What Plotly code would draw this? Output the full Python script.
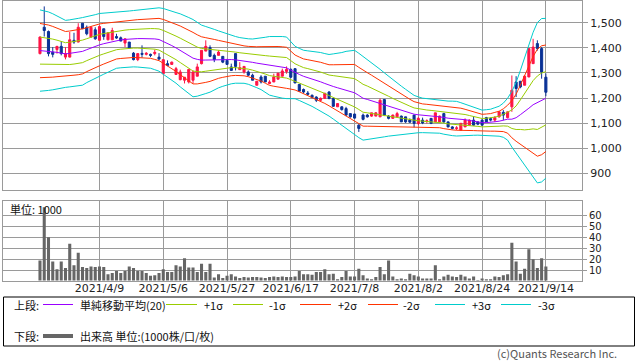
import pandas as pd
import plotly.graph_objects as go

# ---------------- data ----------------
holidays = ["2021-04-29", "2021-05-03", "2021-05-04", "2021-05-05",
            "2021-07-22", "2021-07-23", "2021-08-09"]
dates = [d.strftime("%Y-%m-%d") for d in pd.bdate_range("2021-03-22", "2021-09-14")
         if d.strftime("%Y-%m-%d") not in holidays]

open_ = [1377, 1482, 1465, 1383, 1393, 1406, 1363, 1363, 1430, 1423,
         1498, 1482, 1443, 1472, 1430, 1476, 1432, 1432, 1445, 1440,
         1419, 1423, 1379, 1353, 1378, 1374, 1374, 1377, 1363, 1297,
         1337, 1334, 1294, 1273, 1271, 1264, 1271, 1287, 1337, 1387,
         1401, 1370, 1370, 1366, 1350, 1324, 1377, 1313, 1304, 1304,
         1291, 1251, 1284, 1287, 1258, 1264, 1275, 1287, 1306, 1314,
         1317, 1254, 1234, 1220, 1211, 1204, 1191, 1199, 1224, 1198,
         1165, 1165, 1158, 1138, 1136, 1092, 1132, 1132, 1128, 1128,
         1125, 1194, 1128, 1119, 1125, 1128, 1125, 1112, 1132, 1099,
         1112, 1107, 1119, 1105, 1105, 1138, 1105, 1085, 1079, 1072,
         1085, 1092, 1112, 1105, 1112, 1122, 1118, 1112, 1125, 1143,
         1122, 1165, 1264, 1267, 1251, 1284, 1337, 1417, 1397, 1283]
high = [1445, 1565, 1469, 1403, 1406, 1426, 1403, 1463, 1460, 1498,
        1498, 1489, 1486, 1482, 1489, 1476, 1461, 1480, 1456, 1445,
        1436, 1423, 1383, 1379, 1410, 1383, 1377, 1393, 1379, 1354,
        1350, 1345, 1324, 1313, 1283, 1314, 1310, 1337, 1390, 1430,
        1410, 1377, 1390, 1366, 1356, 1337, 1377, 1343, 1326, 1310,
        1297, 1267, 1291, 1287, 1271, 1297, 1299, 1317, 1326, 1318,
        1318, 1255, 1238, 1228, 1214, 1207, 1202, 1220, 1227, 1198,
        1180, 1167, 1165, 1140, 1138, 1096, 1138, 1136, 1141, 1144,
        1198, 1195, 1132, 1134, 1145, 1130, 1125, 1119, 1132, 1125,
        1122, 1115, 1119, 1141, 1130, 1141, 1107, 1088, 1088, 1101,
        1119, 1115, 1128, 1107, 1115, 1125, 1122, 1128, 1148, 1152,
        1146, 1290, 1287, 1267, 1291, 1397, 1436, 1430, 1403, 1298]
low = [1374, 1445, 1366, 1362, 1377, 1370, 1354, 1362, 1416, 1422,
       1476, 1450, 1440, 1432, 1430, 1432, 1430, 1432, 1436, 1427,
       1403, 1399, 1350, 1347, 1361, 1370, 1363, 1370, 1355, 1294,
       1327, 1333, 1294, 1271, 1258, 1258, 1258, 1287, 1334, 1387,
       1363, 1343, 1370, 1339, 1334, 1310, 1310, 1313, 1297, 1287,
       1271, 1251, 1258, 1264, 1255, 1264, 1275, 1287, 1297, 1279,
       1260, 1227, 1218, 1211, 1199, 1184, 1188, 1196, 1195, 1165,
       1165, 1150, 1128, 1122, 1118, 1065, 1111, 1122, 1125, 1128,
       1125, 1128, 1115, 1118, 1125, 1105, 1101, 1101, 1083, 1092,
       1096, 1099, 1096, 1105, 1105, 1101, 1083, 1075, 1072, 1072,
       1085, 1092, 1090, 1092, 1090, 1105, 1107, 1105, 1122, 1112,
       1119, 1145, 1204, 1239, 1251, 1283, 1337, 1389, 1277, 1207]
close = [1443, 1469, 1377, 1374, 1406, 1377, 1377, 1432, 1423, 1482,
         1476, 1456, 1482, 1436, 1485, 1445, 1460, 1469, 1439, 1427,
         1436, 1399, 1353, 1377, 1374, 1378, 1370, 1382, 1355, 1353,
         1330, 1343, 1317, 1304, 1283, 1314, 1304, 1324, 1390, 1406,
         1366, 1353, 1383, 1343, 1334, 1310, 1326, 1321, 1326, 1291,
         1271, 1267, 1264, 1264, 1264, 1284, 1299, 1308, 1314, 1283,
         1260, 1227, 1224, 1215, 1202, 1191, 1199, 1219, 1198, 1167,
         1178, 1154, 1132, 1125, 1120, 1079, 1115, 1125, 1141, 1141,
         1191, 1132, 1119, 1132, 1138, 1105, 1105, 1104, 1099, 1119,
         1101, 1109, 1099, 1141, 1128, 1105, 1085, 1079, 1081, 1099,
         1112, 1112, 1092, 1096, 1092, 1105, 1112, 1122, 1145, 1132,
         1145, 1231, 1238, 1244, 1287, 1397, 1403, 1397, 1304, 1223]
volume = [19, 67, 40, 18, 11, 18, 12, 34, 14.5, 26,
          13, 12, 13.5, 13, 13.5, 13, 6.5, 7.5, 9.5, 7.5,
          9.5, 13.5, 12, 9.5, 9.5, 7.5, 5, 5.5, 7.5, 11,
          8.5, 8.5, 14.5, 13.5, 21, 12.5, 12.5, 8.5, 16, 8.5,
          16, 3.5, 6.5, 3, 5, 6.5, 4.5, 3, 4, 3.5,
          4, 4, 3.5, 3, 4, 4.5, 4, 4.5, 4, 4,
          4.5, 9.5, 6.5, 6.5, 6, 8.5, 8.5, 11, 6.5, 7,
          2, 4, 9.5, 4.5, 4.5, 11.5, 5.5, 2.5, 2, 4,
          13, 6.5, 19, 4.5, 2, 2.5, 2, 7, 5.5, 4.5,
          2.5, 2.5, 2.5, 14.5, 2, 4.5, 6, 4.5, 4, 6,
          4.5, 2.5, 4.5, 1.2, 2.5, 2, 2, 4.5, 4, 5.5,
          6.5, 35, 18, 7, 11.5, 29, 20, 12, 21, 13.5]
sma20 = [1389.1, 1387.9, 1386.7, 1384.3, 1382.0, 1378.8, 1376.0, 1378.0, 1380.0, 1382.7,
         1385.9, 1392.7, 1399.8, 1405.8, 1411.8, 1416.5, 1420.9, 1425.7, 1429.6, 1431.6,
         1433.6, 1435.2, 1436.4, 1436.8, 1436.8, 1437.2, 1437.2, 1435.6, 1433.2, 1425.7,
         1417.7, 1409.0, 1399.8, 1389.9, 1380.0, 1369.2, 1358.9, 1354.1, 1351.0, 1351.4,
         1352.1, 1353.3, 1354.1, 1354.1, 1354.1, 1353.3, 1352.1, 1350.2, 1348.2, 1345.4,
         1342.2, 1339.0, 1336.3, 1332.3, 1328.3, 1326.3, 1324.3, 1322.3, 1320.4, 1311.2,
         1301.7, 1294.1, 1286.6, 1281.8, 1276.6, 1270.7, 1264.7, 1258.0, 1250.8, 1246.0,
         1240.9, 1235.7, 1230.9, 1226.2, 1221.0, 1210.3, 1199.1, 1194.4, 1189.2, 1184.0,
         1178.5, 1172.9, 1167.4, 1161.4, 1155.4, 1150.7, 1145.5, 1140.3, 1135.6, 1133.2,
         1130.8, 1129.6, 1128.4, 1126.8, 1125.6, 1122.8, 1119.7, 1118.9, 1117.7, 1115.7,
         1113.7, 1110.9, 1107.7, 1104.6, 1101.8, 1102.2, 1103.0, 1105.4, 1107.7, 1111.7,
         1115.7, 1115.7, 1121.6, 1133.6, 1145.5, 1159.4, 1173.3, 1181.3, 1191.2, 1199.1]
sigma20 = [54.0, 53.3, 52.1, 50.5, 48.5, 46.5, 44.5, 44.5, 44.5, 44.9,
           44.9, 43.7, 42.9, 42.1, 41.7, 40.5, 39.3, 38.2, 37.0, 37.0,
           37.0, 37.2, 37.4, 37.8, 38.2, 38.9, 39.5, 40.9, 42.1, 43.7,
           44.9, 46.1, 46.9, 48.5, 49.7, 50.5, 51.3, 48.9, 46.5, 44.5,
           42.9, 40.1, 37.8, 35.8, 33.8, 32.2, 31.0, 30.2, 29.8, 30.2,
           31.0, 32.6, 34.2, 36.6, 38.9, 39.7, 40.5, 40.9, 40.9, 37.8,
           34.8, 34.6, 34.6, 35.4, 36.6, 37.8, 38.9, 39.7, 40.9, 43.3,
           45.7, 48.5, 51.7, 54.0, 56.4, 56.0, 55.6, 53.3, 50.9, 48.1,
           45.3, 42.5, 39.7, 37.0, 34.6, 32.2, 29.8, 27.4, 25.0, 23.8,
           22.9, 22.7, 22.3, 22.1, 21.9, 22.3, 22.7, 22.9, 23.0, 21.9,
           20.7, 19.5, 18.7, 17.5, 16.7, 17.1, 17.5, 18.7, 19.9, 22.7,
           27.8, 37.0, 46.9, 58.8, 72.3, 84.6, 96.2, 106.5, 108.5, 106.1]

tick_dates = ["2021-04-09", "2021-05-06", "2021-05-27", "2021-06-17",
              "2021-07-08", "2021-08-02", "2021-08-24", "2021-09-14"]
tick_labels = ["2021/4/9", "2021/5/6", "2021/5/27", "2021/6/17",
               "2021/7/8", "2021/8/2", "2021/8/24", "2021/9/14"]
price_ticks = [900, 1000, 1100, 1200, 1300, 1400, 1500]
volume_ticks = [10, 20, 30, 40, 50, 60]

# ---------------- styles ----------------
W, H = 638, 362
RED_C = "#FF1446"
BLUE_C = "#0A3296"
GRID = "#9A9A9A"
C_SMA = "#9900FF"
C_1 = "#99CC00"
C_2 = "#FF3300"
C_3 = "#00CCCC"
VOL_C = "#666666"
JP = "Noto Sans CJK JP"
NUM = "DejaVu Sans"


def fx(px):
    return px / W


def fy(py):
    return 1 - py / H


fig = go.Figure()

bands = [(3, C_3), (-3, C_3), (2, C_2), (-2, C_2), (1, C_1), (-1, C_1)]
for k, col in bands:
    fig.add_trace(go.Scatter(x=dates, y=[m + k * s for m, s in zip(sma20, sigma20)],
                             mode="lines", line=dict(color=col, width=1),
                             hoverinfo="skip", xaxis="x", yaxis="y"))
fig.add_trace(go.Scatter(x=dates, y=sma20, mode="lines", line=dict(color=C_SMA, width=1),
                         hoverinfo="skip", xaxis="x", yaxis="y"))

fig.add_trace(go.Candlestick(
    x=dates, open=open_, high=high, low=low, close=close,
    increasing=dict(line=dict(color=RED_C, width=1), fillcolor=RED_C),
    decreasing=dict(line=dict(color=BLUE_C, width=1), fillcolor=BLUE_C),
    whiskerwidth=0, xaxis="x", yaxis="y", hoverinfo="skip"))

fig.add_trace(go.Bar(x=dates, y=volume, marker=dict(color=VOL_C, line=dict(width=0)),
                     width=0.72, xaxis="x2", yaxis="y2", hoverinfo="skip"))

x_dom = [fx(3), fx(582)]
xr = [-8.7, 127.5]
axis_common = dict(showgrid=True, gridcolor=GRID, gridwidth=1, showline=True, mirror=True,
                   linecolor=GRID, linewidth=1, zeroline=False, automargin=False)

fig.update_layout(
    width=W, height=H, margin=dict(l=0, r=0, t=0, b=0, autoexpand=False),
    paper_bgcolor="white", plot_bgcolor="white", showlegend=False,
    xaxis=dict(domain=x_dom, type="category", categoryorder="array", categoryarray=dates,
               range=xr, tickvals=tick_dates, showticklabels=False, ticks="",
               rangeslider=dict(visible=False), anchor="y", **axis_common),
    yaxis=dict(domain=[fy(190), fy(0.5)], range=[833.6, 1588.6], side="right",
               tickvals=price_ticks, tickformat=",d", ticks="outside", ticklen=5,
               tickcolor=GRID, tickfont=dict(family=NUM, size=11, color="#222222"),
               anchor="x", **axis_common),
    xaxis2=dict(domain=x_dom, type="category", categoryorder="array", categoryarray=dates,
                range=xr, tickvals=tick_dates, ticktext=tick_labels, ticks="",
                ticklabelstandoff=-3,
                tickfont=dict(family=NUM, size=11, color="#222222"),
                anchor="y2", **axis_common),
    yaxis2=dict(domain=[fy(280.5), fy(201)], range=[0.8, 72.7], side="right",
                tickvals=volume_ticks, ticks="outside", ticklen=4, tickcolor=GRID,
                tickfont=dict(family=NUM, size=10, color="#222222"),
                anchor="x2", **axis_common),
)

shapes = []
annotations = []

# volume unit label
annotations.append(dict(x=fx(8), y=fy(209), xref="paper", yref="paper", text="単位: 1000",
                        showarrow=False, xanchor="left", yanchor="middle",
                        font=dict(family=JP, size=11, color="#111111")))

# legend box
shapes.append(dict(type="rect", xref="paper", yref="paper", x0=fx(3.5), x1=fx(634.5),
                   y0=fy(346), y1=fy(297), line=dict(color="black", width=1)))
row1, row2 = 304.5, 336
annotations.append(dict(x=fx(12), y=fy(row1), xref="paper", yref="paper", text="上段:",
                        showarrow=False, xanchor="left", yanchor="middle",
                        font=dict(family=JP, size=11, color="#111111")))
annotations.append(dict(x=fx(12), y=fy(row2), xref="paper", yref="paper", text="下段:",
                        showarrow=False, xanchor="left", yanchor="middle",
                        font=dict(family=JP, size=11, color="#111111")))
legend_items = [
    (43, 73, C_SMA, 78, "単純移動平均(20)"),
    (166, 197, C_1, 202, "+1σ"),
    (233, 263, C_1, 267, "-1σ"),
    (300, 331, C_2, 336, "+2σ"),
    (368, 398, C_2, 401, "-2σ"),
    (435, 465, C_3, 470, "+3σ"),
    (501, 531, C_3, 536, "-3σ"),
]
for x0, x1, col, tx, label in legend_items:
    shapes.append(dict(type="line", xref="paper", yref="paper", x0=fx(x0), x1=fx(x1),
                       y0=fy(row1), y1=fy(row1), line=dict(color=col, width=1)))
    annotations.append(dict(x=fx(tx), y=fy(row1), xref="paper", yref="paper", text=label,
                            showarrow=False, xanchor="left", yanchor="middle",
                            font=dict(family=JP, size=11, color="#111111")))
shapes.append(dict(type="line", xref="paper", yref="paper", x0=fx(43), x1=fx(73),
                   y0=fy(row2), y1=fy(row2), line=dict(color=VOL_C, width=4)))
annotations.append(dict(x=fx(78), y=fy(row2), xref="paper", yref="paper",
                        text="出来高 単位:(1000株/口/枚)", showarrow=False,
                        xanchor="left", yanchor="middle",
                        font=dict(family=JP, size=11, color="#111111")))
annotations.append(dict(x=fx(618), y=0, xref="paper", yref="paper",
                        text="(c)Quants Research Inc.", showarrow=False,
                        xanchor="right", yanchor="bottom", borderpad=0,
                        font=dict(family=JP, size=11, color="#555555")))

fig.update_layout(shapes=shapes, annotations=annotations)
fig.write_html("out.html", config={"displayModeBar": False},
               post_script="document.body.style.margin='0px';document.body.style.padding='0px';")
